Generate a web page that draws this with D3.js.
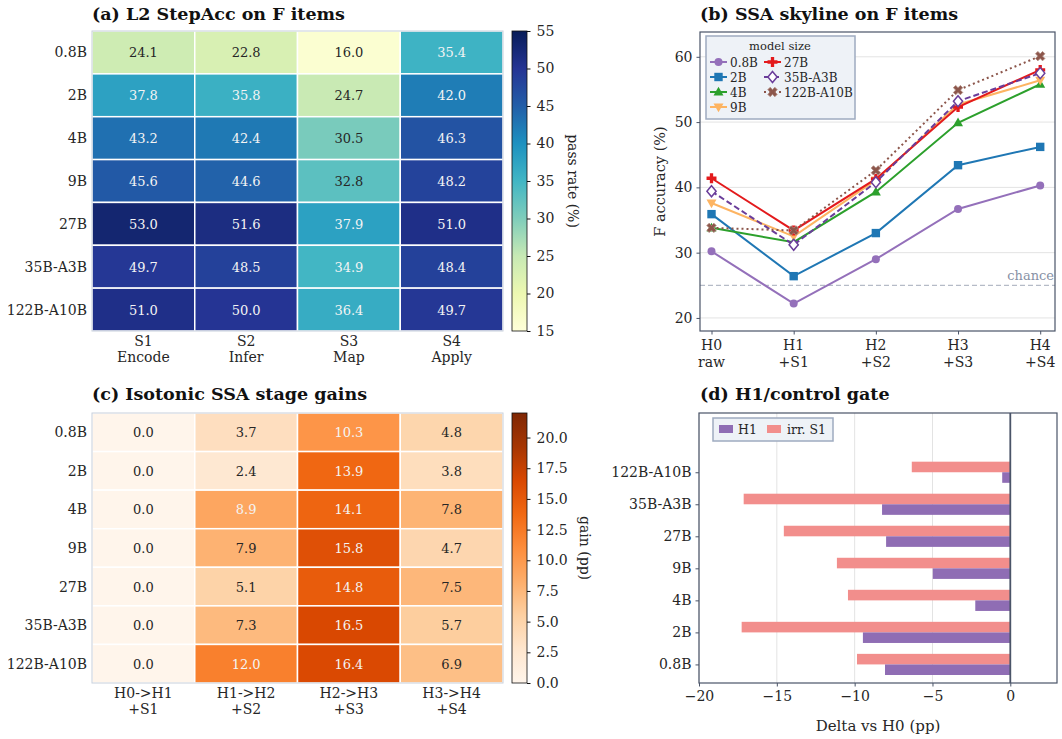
<!DOCTYPE html>
<html lang="en">
<head>
<meta charset="UTF-8">
<title>SSA stage figure</title>
<style>
    body { margin: 0; background: #fff; }
    svg text { font-family: "DejaVu Serif", serif; }
</style>
</head>
<body>
<svg width="1062" height="739"></svg>
<script src="https://d3js.org/d3.v7.min.js"></script>
<script>

// ---- data ----
const models = ["0.8B", "2B", "4B", "9B", "27B", "35B-A3B", "122B-A10B"];
const stageTop = ["S1", "S2", "S3", "S4"];
const stageBottom = ["Encode", "Infer", "Map", "Apply"];
const stepAcc = [
    [24.1, 22.8, 16.0, 35.4],
    [37.8, 35.8, 24.7, 42.0],
    [43.2, 42.4, 30.5, 46.3],
    [45.6, 44.6, 32.8, 48.2],
    [53.0, 51.6, 37.9, 51.0],
    [49.7, 48.5, 34.9, 48.4],
    [51.0, 50.0, 36.4, 49.7]
];

const hTop = ["H0", "H1", "H2", "H3", "H4"];
const hBottom = ["raw", "+S1", "+S2", "+S3", "+S4"];
const skyline = {
    "0.8B":      [30.2, 22.2, 29.0, 36.7, 40.3],
    "2B":        [35.9, 26.4, 33.0, 43.4, 46.2],
    "4B":        [33.8, 31.6, 39.3, 49.9, 55.8],
    "9B":        [37.6, 32.5, 41.1, 52.7, 56.4],
    "27B":       [41.4, 33.4, 41.3, 52.3, 58.0],
    "35B-A3B":   [39.4, 31.2, 40.8, 53.2, 57.5],
    "122B-A10B": [33.8, 33.4, 42.6, 54.9, 60.1]
};
const chance = 25;

const gainTop = ["H0->H1", "H1->H2", "H2->H3", "H3->H4"];
const gainBottom = ["+S1", "+S2", "+S3", "+S4"];
const gains = [
    [0.0, 3.7, 10.3, 4.8],
    [0.0, 2.4, 13.9, 3.8],
    [0.0, 8.9, 14.1, 7.8],
    [0.0, 7.9, 15.8, 4.7],
    [0.0, 5.1, 14.8, 7.5],
    [0.0, 7.3, 16.5, 5.7],
    [0.0, 12.0, 16.4, 6.9]
];

const deltaH1 = [-8.05, -9.47, -2.25, -4.98, -7.98, -8.24, -0.52];
const deltaIrr = [-9.85, -17.26, -10.43, -11.14, -14.55, -17.13, -6.33];

// ---- styling ----
const svg = d3.select("svg");
const spine = "#4a5468";
const gridColor = "#e3e3e3";
const darkText = "#262626";
const tickFont = 14;
const YlGnBu = ["#ffffd9", "#edf8b1", "#c7e9b4", "#7fcdbb", "#41b6c4", "#1d91c0", "#225ea8", "#253494", "#081d58"];
const Oranges = ["#fff5eb", "#fee6ce", "#fdd0a2", "#fdae6b", "#fd8d3c", "#f16913", "#d94801", "#a63603", "#7f2704"];
const defs = svg.append("defs");

function styleAxis(g) {
    g.selectAll(".domain").remove();
    g.selectAll(".tick line").attr("stroke", spine);
    g.selectAll(".tick text").attr("fill", darkText).attr("font-size", tickFont);
}

function title(x, y, txt) {
    svg.append("text").attr("x", x).attr("y", y)
        .attr("font-size", 17.5).attr("font-weight", "bold").attr("fill", "#111")
        .text(txt);
}

// heatmap helper (used for a and c)
function heatmap(opts) {
    const { data, top, bottom, y0, y1, vmin, vmax, colors, gradId, fmt, cbLabel, cbTicks, cbFmt, whiteAbove, labelX } = opts;
    const x = d3.scaleBand().domain(d3.range(4)).range([92, 503]);
    const y = d3.scaleBand().domain(d3.range(models.length)).range([y0, y1]);
    const color = d3.scaleLinear()
        .domain(colors.map((c, i) => vmin + (vmax - vmin) * i / (colors.length - 1)))
        .range(colors).interpolate(d3.interpolateRgb);

    const g = svg.append("g");
    data.forEach((row, r) => {
        row.forEach((v, c) => {
            g.append("rect")
                .attr("x", x(c)).attr("y", y(r))
                .attr("width", x.bandwidth()).attr("height", y.bandwidth())
                .attr("fill", color(v))
                .attr("stroke", "#fff").attr("stroke-width", 1.5);
            g.append("text")
                .attr("x", x(c) + x.bandwidth() / 2)
                .attr("y", y(r) + y.bandwidth() / 2 + 5)
                .attr("text-anchor", "middle").attr("font-size", 13)
                .attr("fill", v > whiteAbove ? "#f4f4f4" : darkText)
                .text(fmt(v));
        });
        g.append("text").attr("x", 87).attr("y", y(r) + y.bandwidth() / 2 + 5)
            .attr("text-anchor", "end").attr("font-size", tickFont).attr("fill", darkText)
            .text(models[r]);
    });
    g.append("rect").attr("x", 92).attr("y", y0).attr("width", 411).attr("height", y1 - y0)
        .attr("fill", "none").attr("stroke", "#c8d0dc").attr("stroke-width", 1);
    top.forEach((t, c) => {
        const tx = x(c) + x.bandwidth() / 2;
        g.append("text").attr("x", tx).attr("y", y1 + 15).attr("text-anchor", "middle")
            .attr("font-size", tickFont).attr("fill", darkText).text(t);
        g.append("text").attr("x", tx).attr("y", y1 + 31).attr("text-anchor", "middle")
            .attr("font-size", tickFont).attr("fill", darkText).text(bottom[c]);
    });

    // colorbar
    const grad = defs.append("linearGradient").attr("id", gradId)
        .attr("x1", "0%").attr("x2", "0%").attr("y1", "100%").attr("y2", "0%");
    colors.forEach((c, i) => {
        grad.append("stop").attr("offset", `${100 * i / (colors.length - 1)}%`).attr("stop-color", c);
    });
    svg.append("rect").attr("x", 512).attr("y", y0).attr("width", 15).attr("height", y1 - y0)
        .attr("fill", `url(#${gradId})`).attr("stroke", "#111").attr("stroke-width", 0.8);
    const cb = d3.scaleLinear().domain([vmin, vmax]).range([y1, y0]);
    svg.append("g").attr("transform", "translate(527,0)")
        .call(d3.axisRight(cb).tickValues(cbTicks).tickFormat(cbFmt).tickSize(3.5).tickPadding(6))
        .call(styleAxis)
        .selectAll(".tick line").attr("stroke", "#111");
    svg.append("text")
        .attr("transform", `translate(${labelX},${(y0 + y1) / 2}) rotate(90)`)
        .attr("text-anchor", "middle").attr("font-size", tickFont).attr("fill", darkText)
        .text(cbLabel);
}

// ---- (a) L2 StepAcc heatmap ----
title(92, 20, "(a) L2 StepAcc on F items");
heatmap({
    data: stepAcc, top: stageTop, bottom: stageBottom, y0: 31, y1: 331,
    vmin: 15, vmax: 55, colors: YlGnBu, gradId: "cbA", fmt: d3.format(".1f"),
    cbLabel: "pass rate (%)", cbTicks: d3.range(15, 56, 5), cbFmt: d3.format("d"),
    whiteAbove: 34, labelX: 568
});

// ---- (c) Isotonic gains heatmap ----
title(92, 400, "(c) Isotonic SSA stage gains");
heatmap({
    data: gains, top: gainTop, bottom: gainBottom, y0: 413, y1: 683,
    vmin: 0, vmax: 22, colors: Oranges, gradId: "cbC", fmt: d3.format(".1f"),
    cbLabel: "gain (pp)", cbTicks: d3.range(0, 21, 2.5), cbFmt: d3.format(".1f"),
    whiteAbove: 8.5, labelX: 580
});

// ---- (b) SSA skyline ----
title(700, 20, "(b) SSA skyline on F items");
const bx = d3.scaleLinear().domain([-0.14, 4.18]).range([700, 1055]);
const by = d3.scaleLinear().domain([18, 63.8]).range([331, 32]);

const gB = svg.append("g");
gB.selectAll(".grid").data([20, 30, 40, 50, 60]).enter().append("line")
    .attr("x1", 700).attr("x2", 1055).attr("y1", d => by(d)).attr("y2", d => by(d))
    .attr("stroke", gridColor).attr("stroke-width", 1);
gB.append("line").attr("x1", 700).attr("x2", 1055).attr("y1", by(chance)).attr("y2", by(chance))
    .attr("stroke", "#a3abba").attr("stroke-width", 1).attr("stroke-dasharray", "5,3");
gB.append("text").attr("x", 1054).attr("y", by(chance) - 5).attr("text-anchor", "end")
    .attr("font-size", 13).attr("fill", "#8791a5").text("chance");

const series = [
    { name: "0.8B", color: "#9470ba", dash: null, marker: "circle" },
    { name: "2B", color: "#1f77b4", dash: null, marker: "square" },
    { name: "4B", color: "#2ca02c", dash: null, marker: "triUp" },
    { name: "9B", color: "#fdb462", dash: null, marker: "triDown" },
    { name: "27B", color: "#e31a1c", dash: null, marker: "plus" },
    { name: "35B-A3B", color: "#6a3d9a", dash: "6,3", marker: "diamond" },
    { name: "122B-A10B", color: "#8c564b", dash: "2,3", marker: "x" }
];

function drawMarker(g, type, cx, cy, color) {
    if (type === "circle") {
        g.append("circle").attr("cx", cx).attr("cy", cy).attr("r", 4).attr("fill", color);
    } else if (type === "square") {
        g.append("rect").attr("x", cx - 4.2).attr("y", cy - 4.2).attr("width", 8.4).attr("height", 8.4).attr("fill", color);
    } else if (type === "triUp") {
        g.append("path").attr("d", `M${cx},${cy - 5.2}L${cx + 5},${cy + 3.6}L${cx - 5},${cy + 3.6}Z`).attr("fill", color);
    } else if (type === "triDown") {
        g.append("path").attr("d", `M${cx},${cy + 5.2}L${cx + 5},${cy - 3.6}L${cx - 5},${cy - 3.6}Z`).attr("fill", color);
    } else if (type === "plus") {
        g.append("path").attr("d", d3.symbol(d3.symbolCross, 55)()).attr("transform", `translate(${cx},${cy})`)
            .attr("fill", color);
    } else if (type === "diamond") {
        g.append("path").attr("d", `M${cx},${cy - 5.5}L${cx + 4.6},${cy}L${cx},${cy + 5.5}L${cx - 4.6},${cy}Z`)
            .attr("fill", "#fff").attr("stroke", color).attr("stroke-width", 1.5);
    } else if (type === "x") {
        g.append("path").attr("d", d3.symbol(d3.symbolCross, 55)())
            .attr("transform", `translate(${cx},${cy}) rotate(45)`)
            .attr("fill", color).attr("stroke", "#b08a80").attr("stroke-width", 0.8);
    }
}

const line = d3.line().x((d, i) => bx(i)).y(d => by(d));
series.forEach(s => {
    const vals = skyline[s.name];
    gB.append("path").datum(vals).attr("d", line)
        .attr("fill", "none").attr("stroke", s.color).attr("stroke-width", 2)
        .attr("stroke-dasharray", s.dash);
    vals.forEach((v, i) => drawMarker(gB, s.marker, bx(i), by(v), s.color));
});

// axes of (b)
gB.append("rect").attr("x", 700).attr("y", 32).attr("width", 355).attr("height", 299)
    .attr("fill", "none").attr("stroke", spine).attr("stroke-width", 1.2);
svg.append("g").attr("transform", "translate(700,0)")
    .call(d3.axisLeft(by).tickValues([20, 30, 40, 50, 60]).tickSize(3.5).tickPadding(4))
    .call(styleAxis);
svg.append("g").attr("transform", "translate(0,331)")
    .call(d3.axisBottom(bx).tickValues(d3.range(5)).tickSize(3.5).tickFormat(""))
    .call(styleAxis);
hTop.forEach((t, i) => {
    svg.append("text").attr("x", bx(i)).attr("y", 350).attr("text-anchor", "middle")
        .attr("font-size", tickFont).attr("fill", darkText).text(t);
    svg.append("text").attr("x", bx(i)).attr("y", 367).attr("text-anchor", "middle")
        .attr("font-size", tickFont).attr("fill", darkText).text(hBottom[i]);
});
svg.append("text").attr("transform", `translate(665,${(32 + 331) / 2}) rotate(-90)`)
    .attr("text-anchor", "middle").attr("font-size", 14.5).attr("fill", darkText)
    .text("F accuracy (%)");

// legend of (b)
const legB = svg.append("g");
legB.append("rect").attr("x", 706).attr("y", 36).attr("width", 149).attr("height", 83)
    .attr("fill", "#eef2f7").attr("stroke", "#9eabc0").attr("stroke-width", 1.5);
legB.append("text").attr("x", 780).attr("y", 50).attr("text-anchor", "middle")
    .attr("font-size", 11.5).attr("fill", darkText).text("model size");
series.forEach((s, i) => {
    const col = i < 4 ? 0 : 1;
    const row = i < 4 ? i : i - 4;
    const lx = col === 0 ? 710 : 764;
    const ly = 62 + row * 15;
    legB.append("line").attr("x1", lx).attr("x2", lx + 17).attr("y1", ly).attr("y2", ly)
        .attr("stroke", s.color).attr("stroke-width", 2).attr("stroke-dasharray", s.dash);
    drawMarker(legB, s.marker, lx + 8.5, ly, s.color);
    legB.append("text").attr("x", lx + 20).attr("y", ly + 4.5)
        .attr("font-size", 12).attr("fill", darkText).text(s.name);
});

// ---- (d) H1/control gate ----
title(700, 400, "(d) H1/control gate");
const dx = d3.scaleLinear().domain([-20, 3]).range([699, 1057]);
const dy = d3.scaleLinear().domain([-0.58, 7.85]).range([683, 413]);
const barH = 0.33;
const gD = svg.append("g");
gD.selectAll(".grid").data([-20, -15, -10, -5, 0]).enter().append("line")
    .attr("x1", d => dx(d)).attr("x2", d => dx(d)).attr("y1", 413).attr("y2", 683)
    .attr("stroke", gridColor).attr("stroke-width", 1);
models.forEach((m, i) => {
    gD.append("rect").attr("x", dx(deltaIrr[i])).attr("y", dy(i + barH))
        .attr("width", dx(0) - dx(deltaIrr[i])).attr("height", dy(i) - dy(i + barH))
        .attr("fill", "#f28e8c");
    gD.append("rect").attr("x", dx(deltaH1[i])).attr("y", dy(i))
        .attr("width", dx(0) - dx(deltaH1[i])).attr("height", dy(i - barH) - dy(i))
        .attr("fill", "#8f6db4");
});
gD.append("line").attr("x1", dx(0)).attr("x2", dx(0)).attr("y1", 413).attr("y2", 683)
    .attr("stroke", spine).attr("stroke-width", 1.8);
gD.append("rect").attr("x", 699).attr("y", 413).attr("width", 358).attr("height", 270)
    .attr("fill", "none").attr("stroke", spine).attr("stroke-width", 1.2);
svg.append("g").attr("transform", "translate(699,0)")
    .call(d3.axisLeft(dy).tickValues(d3.range(models.length)).tickFormat(i => models[i]).tickSize(3.5).tickPadding(4))
    .call(styleAxis);
svg.append("g").attr("transform", "translate(0,683)")
    .call(d3.axisBottom(dx).tickValues([-20, -15, -10, -5, 0]).tickFormat(d => d < 0 ? "\u2212" + Math.abs(d) : d).tickSize(3.5).tickPadding(5))
    .call(styleAxis);
svg.append("text").attr("x", (699 + 1057) / 2).attr("y", 731).attr("text-anchor", "middle")
    .attr("font-size", 15).attr("fill", darkText).text("Delta vs H0 (pp)");

// legend of (d)
const legD = svg.append("g");
legD.append("rect").attr("x", 713).attr("y", 418).attr("width", 120).attr("height", 23)
    .attr("fill", "#eef2f7").attr("stroke", "#9eabc0").attr("stroke-width", 1.5);
legD.append("rect").attr("x", 719).attr("y", 425).attr("width", 14).attr("height", 8).attr("fill", "#8f6db4");
legD.append("text").attr("x", 738).attr("y", 434).attr("font-size", 12.5).attr("fill", darkText).text("H1");
legD.append("rect").attr("x", 767).attr("y", 425).attr("width", 14).attr("height", 8).attr("fill", "#f28e8c");
legD.append("text").attr("x", 787).attr("y", 434).attr("font-size", 12.5).attr("fill", darkText).text("irr. S1");

</script>
</body>
</html>
